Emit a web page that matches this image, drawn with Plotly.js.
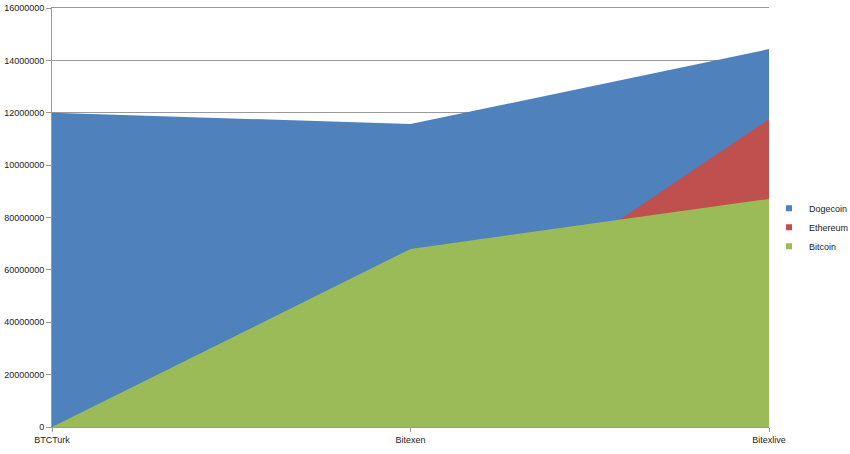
<!DOCTYPE html>
<html>
<head>
<meta charset="utf-8">
<script src="https://cdn.plot.ly/plotly-3.0.1.min.js"></script>
<style>html,body{margin:0;padding:0;background:#fff;}#chart{width:850px;height:454px;}</style>
</head>
<body>
<div id="chart"></div>
<script>
const categories = ["BTCTurk", "Bitexen", "Bitexlive"];
const dogecoin = [120000000, 115700000, 144300000];
const ethereum = [0, 25300000, 117600000];
const bitcoin = [0, 68000000, 87100000];
const yTickValues = [0, 20000000, 40000000, 60000000, 80000000, 100000000, 120000000, 140000000, 160000000];
const yTickLabels = ["0", "20000000", "40000000", "60000000", "80000000", "10000000", "12000000", "14000000", "16000000"];

const seriesNames = ["Dogecoin", "Ethereum", "Bitcoin"];
const seriesData = [dogecoin, ethereum, bitcoin];
const colors = ["#4F81BD", "#C0504D", "#9BBB59"];
const xIdx = categories.map((c, i) => i);

const traces = [];
seriesData.forEach((vals, k) => {
  traces.push({
    x: xIdx, y: vals, type: "scatter", mode: "none",
    fill: "tozeroy", fillcolor: colors[k], name: seriesNames[k],
    showlegend: false, hoverinfo: "skip"
  });
});
seriesData.forEach((vals, k) => {
  traces.push({
    x: [null], y: [null], type: "scatter", mode: "markers",
    marker: {symbol: "square", size: 6, color: colors[k]},
    name: seriesNames[k], showlegend: true
  });
});

const layout = {
  width: 850, height: 454,
  margin: {l: 52, r: 81, t: 8, b: 27, autoexpand: false},
  paper_bgcolor: "#fff", plot_bgcolor: "#fff",
  font: {family: "Liberation Sans, Arial, sans-serif", size: 9, color: "#222"},
  showlegend: true,
  legend: {x: 1.0, xanchor: "left", y: 0.477, yanchor: "middle",
           bgcolor: "rgba(0,0,0,0)",
           font: {size: 9, color: "#222"}, tracegroupgap: 0, itemwidth: 30},
  xaxis: {
    type: "linear", range: [0, 2], tickvals: xIdx, ticktext: categories,
    showgrid: false, zeroline: false, showline: true, mirror: true,
    linecolor: "#9a9a9a", linewidth: 1,
    ticks: "outside", ticklen: 4, tickcolor: "#9a9a9a", fixedrange: true
  },
  yaxis: {
    range: [0, 160000000], tickvals: yTickValues, ticktext: yTickLabels,
    showgrid: true, gridcolor: "#9a9a9a", gridwidth: 1, zeroline: false,
    showline: true, linecolor: "#9a9a9a", linewidth: 1,
    ticks: "outside", ticklen: 5, tickcolor: "#9a9a9a", fixedrange: true
  }
};

Plotly.newPlot("chart", traces, layout, {displayModeBar: false, staticPlot: true});
</script>
</body>
</html>
